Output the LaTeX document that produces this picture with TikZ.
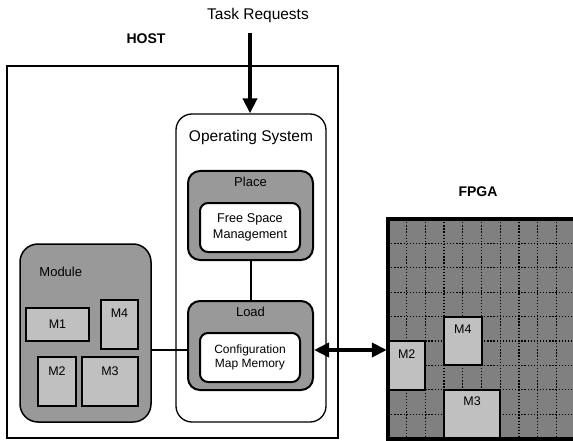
\documentclass[tikz,border=0pt]{standalone}
\usepackage{fontspec}
\setmainfont{Liberation Sans}
\usetikzlibrary{positioning,arrows.meta}
\definecolor{boxgray}{HTML}{999999}
\definecolor{chipgray}{HTML}{808080}
\definecolor{modgray}{HTML}{C0C0C0}
\tikzstyle{frame} = [rectangle, draw, line width=1.5pt, inner sep=0pt]
\tikzstyle{osbox} = [rectangle, draw, line width=1.3pt, rounded corners=16pt, inner sep=0pt]
\tikzstyle{unit} = [rectangle, draw, fill=boxgray, line width=2pt, rounded corners=12pt, inner sep=0pt]
\tikzstyle{store} = [rectangle, draw, fill=white, line width=2pt, rounded corners=8pt, align=center, inner sep=0pt]
\tikzstyle{mod} = [rectangle, draw, fill=modgray, line width=2pt, inner sep=0pt]
\tikzstyle{chip} = [rectangle, fill=chipgray, inner sep=0pt]
\tikzstyle{caption} = [inner sep=0pt, font=\fontsize{13}{15}\selectfont]
\tikzstyle{mlabel} = [inner sep=0pt, font=\fontsize{12.5}{14}\selectfont]
\tikzstyle{heading} = [inner sep=0pt, font=\bfseries\fontsize{14}{16}\selectfont]
\tikzstyle{gridline} = [line width=1.3pt, dash pattern=on 1.3pt off 1.8pt]
\tikzstyle{bigarrow} = [line width=4.5pt, -{Triangle[length=15pt,width=14pt]}]
\tikzstyle{bothways} = [line width=4pt, {Triangle[length=15pt,width=14pt]}-{Triangle[length=15pt,width=14pt]}]

\begin{document}
\begin{tikzpicture}[x=1pt,y=-1pt]
    \useasboundingbox (0,0) rectangle (573,441);
    % host side
    \node (task) [inner sep=0pt, font=\fontsize{15.5}{18}\selectfont] at (258,15) {Task Requests};
    \node (host-title) [heading] at (146,39) {HOST};
    \node (host) [frame, minimum width=331pt, minimum height=372pt] at (172.5,252) {};
    \node (os) [osbox, minimum width=150pt, minimum height=308pt] at (251,268) {};
    \node (os-title) [inner sep=0pt, font=\fontsize{15.5}{18}\selectfont, below=17pt of os.north] {Operating System};
    \node (place) [unit, minimum width=125pt, minimum height=89pt] at (250.5,215.5) {};
    \node (place-title) [caption, below=7pt of place.north] {Place};
    \node (free-space) [store, minimum width=100pt, minimum height=49pt, font=\fontsize{12.7}{16}\selectfont] at (250,227.5) {Free Space\\Management};
    \node (load) [unit, minimum width=125pt, minimum height=89pt] at (250.5,345.5) {};
    \node (load-title) [caption, below=6.5pt of load.north] {Load};
    \node (config-map) [store, minimum width=100pt, minimum height=49pt, font=\fontsize{12}{13.3}\selectfont] at (250,357.5) {Configuration\\Map Memory};
    \node (module) [unit, line width=1.5pt, rounded corners=18pt, minimum width=131pt, minimum height=178pt] at (85.5,333) {};
    \node (module-title) [caption, below right=24pt and 20pt of module.north west] {Module};
    \node (m1) [mod, mlabel, minimum width=63pt, minimum height=33pt] at (57.5,324.5) {M1};
    \node (m4) [mod, minimum width=37pt, minimum height=49pt] at (119.5,324.5) {};
    \node [mlabel, below=9.5pt of m4.north] {M4};
    \node (m2) [mod, minimum width=38pt, minimum height=49pt] at (57,381.5) {};
    \node [mlabel, below=10.5pt of m2.north] {M2};
    \node (m3) [mod, minimum width=56pt, minimum height=49pt] at (110,381.5) {};
    \node [mlabel, below=10.5pt of m3.north] {M3};
    % fpga side
    \node (fpga-title) [heading] at (478,192) {FPGA};
    \node (fpga) [chip, minimum width=192pt, minimum height=220pt] at (484,329) {};
    \foreach \i in {1,...,9}
        \draw [gridline] (388+\i*18.7,219) -- (388+\i*18.7,439);
    \foreach \j in {1,...,8}
        \draw [gridline] (388,219+\j*24.4) -- (580,219+\j*24.4);
    \node (fm2) [mod, minimum width=37.4pt, minimum height=48.8pt] at (406.7,365.4) {};
    \node [mlabel, below=9.5pt of fm2.north] {M2};
    \node (fm4) [mod, minimum width=37.4pt, minimum height=48.8pt] at (462.8,341) {};
    \node [mlabel, below=9pt of fm4.north] {M4};
    \node (fm3) [mod, minimum width=56.1pt, minimum height=49.2pt] at (472.15,414.4) {};
    \node [mlabel, below=7.7pt of fm3.north] {M3};
    \draw [line width=4pt] (fpga.north west) rectangle (fpga.south east);
    % connectors
    \coordinate (req) at (250,33);
    \coordinate (bus) at (250,350);
    \draw [bigarrow] (req) -- (req |- os.north);
    \draw [line width=2pt] (place.south) -- (load.north);
    \draw [line width=2pt] (module.east |- bus) -- (load.west |- bus);
    \draw [bothways] (load.east |- bus) -- ([xshift=-1pt]fpga.west |- bus);
\end{tikzpicture}
\end{document}
